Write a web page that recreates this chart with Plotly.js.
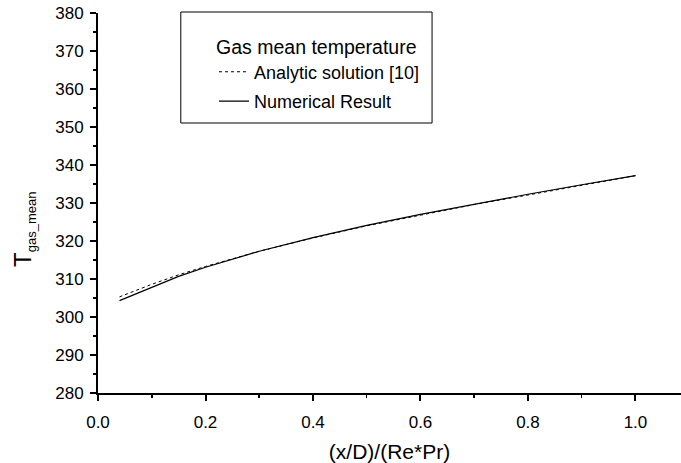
<!DOCTYPE html>
<html>
<head>
<meta charset="utf-8">
<script src="https://cdn.plot.ly/plotly-3.0.1.min.js"></script>
<style>html,body{margin:0;padding:0;background:#fff;}#chart{width:681px;height:463px;}</style>
</head>
<body>
<div id="chart"></div>
<script>
// Data
const xValues = [0.04, 0.1, 0.15, 0.2, 0.3, 0.4, 0.5, 0.6, 0.7, 0.8, 0.9, 1.0];
const analyticT = [305.3, 308.6, 311.1, 313.3, 317.3, 320.8, 324.0, 326.9, 329.6, 332.1, 334.7, 337.2];
const numericalT = [304.3, 307.9, 310.7, 313.1, 317.3, 320.9, 324.1, 327.0, 329.7, 332.3, 334.8, 337.2];
const seriesNames = ["Analytic solution [10]", "Numerical Result"];
const legendTitle = "Gas mean temperature";
const xTitle = "(x/D)/(Re*Pr)";
const yTitleMain = "T";
const yTitleSub = "gas_mean";

const FONT = "Liberation Sans, Arial, sans-serif";

const traces = [
  {x: xValues, y: analyticT, name: seriesNames[0], mode: "lines", legendgroup: "a",
   line: {color: "#000", width: 1, dash: "dot"}},
  {x: xValues, y: numericalT, name: seriesNames[1], mode: "lines", legendgroup: "b",
   line: {color: "#000", width: 1.2}}
];

const layout = {
  width: 681, height: 463,
  margin: {l: 98, r: 0, t: 13, b: 70},
  paper_bgcolor: "#fff", plot_bgcolor: "#fff",
  font: {family: FONT, color: "#000", size: 17},
  showlegend: true,
  legend: {
    x: 0.199, y: 0.96, xanchor: "left", yanchor: "top",
    bgcolor: "rgba(0,0,0,0)", borderwidth: 0,
    font: {family: FONT, size: 18, color: "#000"},
    title: {text: legendTitle, font: {family: FONT, size: 19.5, color: "#000"}},
    tracegroupgap: 3
  },
  shapes: [
    {type: "rect", xref: "paper", yref: "paper", x0: 0.142, x1: 0.573, y0: 0.7105, y1: 1.0026,
     line: {color: "#000", width: 1}, fillcolor: "rgba(0,0,0,0)"}
  ],
  annotations: [
    {text: yTitleMain + "<sub><span style=\"font-size:13px\">" + yTitleSub + "</span></sub>",
     xref: "paper", yref: "paper", x: -0.128, y: 0.43, xanchor: "center", yanchor: "middle",
     textangle: -90, showarrow: false, font: {family: FONT, size: 24, color: "#000"}}
  ],
  xaxis: {
    range: [0, 1.0847], dtick: 0.2, tick0: 0, tickformat: ".1f",
    showgrid: false, zeroline: false,
    showline: true, linecolor: "#000", linewidth: 2,
    ticks: "outside", ticklen: 6, tickwidth: 2, tickcolor: "#000",
    ticklabelstandoff: 7,
    minor: {dtick: 0.1, ticks: "outside", ticklen: 3, tickwidth: 1.5, tickcolor: "#000", showgrid: false},
    tickfont: {family: FONT, size: 17},
    title: {text: xTitle, font: {family: FONT, size: 21}, standoff: 13}
  },
  yaxis: {
    range: [280, 380], dtick: 10, tick0: 280,
    showgrid: false, zeroline: false,
    showline: true, linecolor: "#000", linewidth: 2,
    ticks: "outside", ticklen: 6, tickwidth: 2, tickcolor: "#000",
    ticklabelstandoff: 3,
    minor: {dtick: 5, ticks: "outside", ticklen: 3, tickwidth: 1.5, tickcolor: "#000", showgrid: false},
    tickfont: {family: FONT, size: 17}
  }
};

Plotly.newPlot("chart", traces, layout, {displayModeBar: false, staticPlot: true});
</script>
</body>
</html>
